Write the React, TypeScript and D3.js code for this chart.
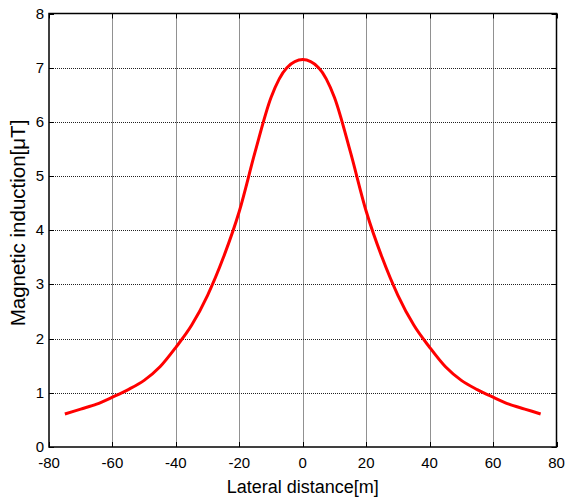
import React from "react";
import * as d3 from "d3";

const xs = [-75, -70, -65, -60, -55, -50, -45, -40, -35, -30, -25, -20, -15, -10, -5, 0, 5, 10, 15, 20, 25, 30, 35, 40, 45, 50, 55, 60, 65, 70, 75];
const ys = [0.61, 0.70, 0.79, 0.92, 1.06, 1.23, 1.48, 1.84, 2.25, 2.8, 3.5, 4.35, 5.45, 6.45, 7.0, 7.15, 7.0, 6.45, 5.45, 4.35, 3.5, 2.8, 2.25, 1.84, 1.48, 1.23, 1.06, 0.92, 0.79, 0.70, 0.61];
const xTicks = [-80, -60, -40, -20, 0, 20, 40, 60, 80];
const yTicks = [0, 1, 2, 3, 4, 5, 6, 7, 8];

export default function App() {
  const W = 565, H = 498;
  const L = 49, R = 556.5, T = 13.5, B = 447;
  const x = d3.scaleLinear().domain([-80, 80]).range([L, R]);
  const y = d3.scaleLinear().domain([0, 8]).range([B, T]);
  const px = (v: number) => Math.round(v) + 0.5;
  const line = d3.line<number>().x((_, i) => x(xs[i])).y((d) => y(d)).curve(d3.curveMonotoneX);
  const font = "'Liberation Sans', Arial, sans-serif";
  return (
    <svg width={W} height={H} style={{ position: "absolute", left: 0, top: 0 }}>
      <rect width={W} height={H} fill="#fff" />
      {xTicks.slice(1, -1).map((t) => (
        <line key={"gx" + t} x1={px(x(t))} x2={px(x(t))} y1={T} y2={B} stroke="#222" strokeWidth={1} strokeDasharray="1,1" />
      ))}
      {yTicks.slice(1, -1).map((t) => (
        <line key={"gy" + t} x1={L} x2={R} y1={px(y(t))} y2={px(y(t))} stroke="#222" strokeWidth={1} strokeDasharray="1,1" />
      ))}
      {xTicks.map((t) => (
        <g key={"tx" + t}>
          <line x1={px(x(t))} x2={px(x(t))} y1={B} y2={B - 5} stroke="#000" />
          <line x1={px(x(t))} x2={px(x(t))} y1={T} y2={T + 5} stroke="#000" />
          <text x={x(t)} y={B + 21} textAnchor="middle" fontFamily={font} fontSize={15}>{t}</text>
        </g>
      ))}
      {yTicks.map((t) => (
        <g key={"ty" + t}>
          <line x1={L} x2={L + 5} y1={px(y(t))} y2={px(y(t))} stroke="#000" />
          <line x1={R} x2={R - 5} y1={px(y(t))} y2={px(y(t))} stroke="#000" />
          <text x={L - 5} y={y(t) + 5} textAnchor="end" fontFamily={font} fontSize={15}>{t}</text>
        </g>
      ))}
      <rect x={L} y={T} width={R - L} height={B - T} fill="none" stroke="#000" strokeWidth={1.5} />
      <path d={line(ys) || ""} fill="none" stroke="#ff0000" strokeWidth={3} />
      <text x={(L + R) / 2} y={493} textAnchor="middle" fontFamily={font} fontSize={18}>Lateral distance[m]</text>
      <text transform={`translate(25,223) rotate(-90)`} textAnchor="middle" fontFamily={font} fontSize={20.5}>Magnetic induction[μT]</text>
    </svg>
  );
}
